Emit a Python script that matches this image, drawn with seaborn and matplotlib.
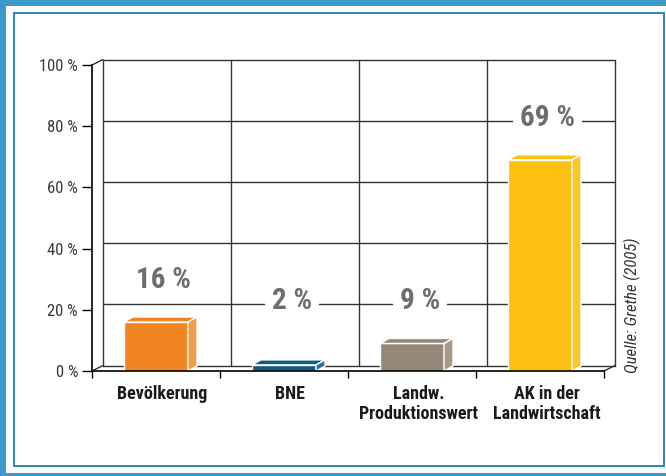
import matplotlib
matplotlib.use("Agg")
import matplotlib.pyplot as plt
import seaborn as sns
import pandas as pd
from matplotlib.patches import Rectangle, Polygon

categories = ["Bevölkerung", "BNE", "Landw.\nProduktionswert", "AK in der\nLandwirtschaft"]
values = [16, 2, 9, 69]
bar_colors = ["#F28522", "#0F5C82", "#958878", "#FDC010"]
side_colors = ["#F59A45", "#2A7099", "#A59A8A", "#FDC72A"]
y_ticks = [0, 20, 40, 60, 80, 100]
source = "Quelle: Grethe (2005)"

sns.set_theme(style="white")
plt.rcParams["font.family"] = ["Roboto Condensed", "DejaVu Sans"]

W, H = 666, 476
fig = plt.figure(figsize=(W / 100, H / 100), dpi=100)
fig.patch.set_facecolor("#3C9AC9")

# white card + thin frame
fig.patches.append(Rectangle((5.5 / W, 3 / H), 1, 1 - 9 / H, transform=fig.transFigure,
                             facecolor="white", edgecolor="none", zorder=-2))
fig.patches.append(Rectangle((14 / W, 10 / H), 650 / W, 453 / H, transform=fig.transFigure,
                             facecolor="none", edgecolor="#2A87BE", lw=1.4, zorder=-1))

ax = fig.add_axes([92 / W, 1 - 371 / H, (604 - 92) / W, (371 - 65) / H])
ax.set_facecolor("none")

df = pd.DataFrame({"cat": categories, "val": values})
sns.barplot(data=df, x="cat", y="val", hue="cat", palette=bar_colors, width=0.5,
            legend=False, ax=ax, zorder=3, edgecolor="white", linewidth=1, saturation=1)

ax.set_xlim(-0.5, 3.5)
ax.set_ylim(0, 100)

# back wall offsets (data units)
dxw, dyw = 11 / 128, 5.5 / 3.06
line_kw = dict(color="#333333", lw=1, zorder=1, clip_on=False)
n = len(categories)
for y in y_ticks[1:-1]:
    ax.plot([-0.5 + dxw, n - 0.5 + dxw], [y + dyw, y + dyw], **line_kw)
ax.plot([-0.5 + dxw, n - 0.5 + dxw], [100 + dyw, 100 + dyw], **line_kw)
ax.plot([-0.5 + dxw, n - 0.5 + dxw], [dyw, dyw], **line_kw)
for i in range(n + 1):
    ax.plot([i - 0.5 + dxw] * 2, [dyw, 100 + dyw], **line_kw)
ax.plot([-0.5, -0.5 + dxw], [100, 100 + dyw], **line_kw)
ax.plot([-0.5, -0.5 + dxw], [0, dyw], **line_kw)
ax.plot([n - 0.5, n - 0.5 + dxw], [0, dyw], **line_kw)

# 3d faces on the bars
dxb, dyb = 9 / 128, 5 / 3.06
for p, sc in zip(ax.patches[:n], side_colors):
    x0, w, h = p.get_x(), p.get_width(), p.get_height()
    fc = p.get_facecolor()
    top = Polygon([(x0, h), (x0 + dxb, h + dyb), (x0 + w + dxb, h + dyb), (x0 + w, h)],
                  closed=True, facecolor=fc, edgecolor="white", lw=1, zorder=3)
    side = Polygon([(x0 + w, 0), (x0 + w + dxb, dyb), (x0 + w + dxb, h + dyb), (x0 + w, h)],
                   closed=True, facecolor=sc, edgecolor="white", lw=1, zorder=3)
    ax.add_patch(top)
    ax.add_patch(side)
    ax.text(x0 + w / 2 + 0.06, max(h, 9) + 13.8, f"{int(round(h))} %", ha="center", va="center",
            fontsize=21, fontweight="bold", color="#6E6E6E", zorder=5,
            bbox=dict(facecolor="white", edgecolor="none", pad=5))

for s in ["top", "right"]:
    ax.spines[s].set_visible(False)
for s in ["left", "bottom"]:
    ax.spines[s].set_color("black")
    ax.spines[s].set_linewidth(1.2)
    ax.spines[s].set_zorder(4)

ax.set_yticks(y_ticks)
ax.set_yticklabels([f"{t} %" for t in y_ticks])
ax.tick_params(axis="y", direction="out", length=7, width=1, color="black",
               labelsize=12, labelcolor="#3a3a3a", pad=3, left=True)
ax.set_xticks([i + 0.05 for i in range(n)])
ax.set_xticklabels(categories, fontweight="bold", fontsize=13, color="#1a1a1a",
                   linespacing=1.15)
ax.set_xticks([i - 0.5 for i in range(n + 1)], minor=True)
ax.tick_params(axis="x", which="major", length=0, pad=10)
ax.tick_params(axis="x", which="minor", direction="out", length=5, width=1,
               color="black", bottom=True)
ax.set_xlabel("")
ax.set_ylabel("")
ax.grid(False)

fig.text(632 / W, 1 - 305 / H, source, rotation=90, ha="center", va="center",
         fontsize=12, style="italic", color="#333333")

fig.savefig("out.png", dpi=100)
